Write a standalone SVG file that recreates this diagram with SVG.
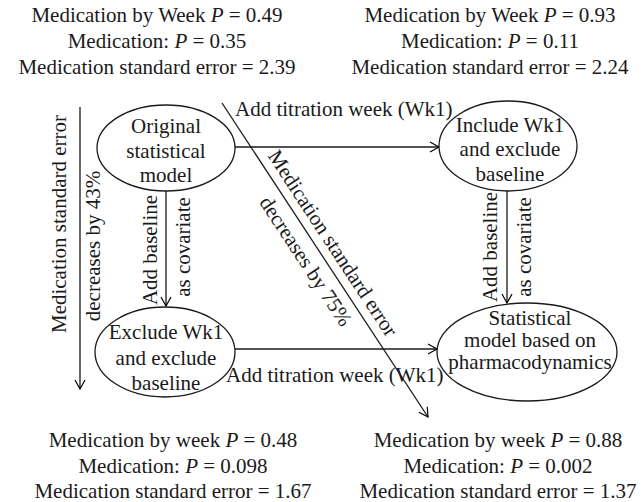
<svg xmlns="http://www.w3.org/2000/svg" width="643" height="502" viewBox="0 0 643 502" font-family="Liberation Serif, Tinos, DejaVu Serif, serif">
<defs>
<marker id="ah" viewBox="0 0 12 12" refX="10" refY="6" markerWidth="12" markerHeight="12" markerUnits="userSpaceOnUse" orient="auto">
<path d="M1,1 L10,6 L1,11" fill="none" stroke="#000" stroke-width="1.2"/>
</marker>
</defs>
<style>
text{font-family:'Liberation Serif',Tinos,'DejaVu Serif',serif;font-size:21px;fill:#1a1a1a}
.m{text-anchor:middle}
.i{font-style:italic}
ellipse{fill:#fff;stroke:#1a1a1a;stroke-width:1.3}
.c line{stroke:#1a1a1a;stroke-width:1.3}
.a{marker-end:url(#ah)}
</style>
<rect width="643" height="502" fill="#fff"/>
<g id="connectors" class="c">
<line class="a" x1="235" y1="147" x2="439" y2="147"/>
<line class="a" x1="235" y1="349" x2="437" y2="349"/>
<line class="a" x1="166" y1="191" x2="166" y2="306"/>
<line class="a" x1="507" y1="191" x2="507" y2="303"/>
<line class="a" x1="80" y1="107" x2="80" y2="389"/>
<line class="a" x1="222" y1="103" x2="428" y2="417"/>
<text x="235" y="116">Add titration week (Wk1)</text>
<text x="226" y="382">Add titration week (Wk1)</text>
<text class="m" transform="translate(157,250) rotate(-90)">Add baseline</text>
<text class="m" transform="translate(190,247) rotate(-90)">as covariate</text>
<text class="m" transform="translate(497,247) rotate(-90)">Add baseline</text>
<text class="m" transform="translate(531,247) rotate(-90)">as covariate</text>
<text class="m" transform="translate(66,224) rotate(-90)">Medication standard error</text>
<text class="m" transform="translate(100,246) rotate(-90)">decreases by 43%</text>
<text class="m" transform="translate(327,247) rotate(56.7)">Medication standard error</text>
<text class="m" transform="translate(300,265) rotate(56.7)">decreases by 75%</text>
</g>
<g id="original">
<ellipse cx="166" cy="148" rx="69" ry="43"/>
<text class="m" x="166" y="133">Original</text>
<text class="m" x="166" y="158">statistical</text>
<text class="m" x="166" y="182">model</text>
</g>
<g id="include">
<ellipse cx="508" cy="146" rx="69" ry="45"/>
<text class="m" x="510" y="132">Include Wk1</text>
<text class="m" x="510" y="156">and exclude</text>
<text class="m" x="510" y="181">baseline</text>
</g>
<g id="exclude">
<ellipse cx="165" cy="352" rx="70" ry="45"/>
<text class="m" x="166" y="339">Exclude Wk1</text>
<text class="m" x="166" y="365">and exclude</text>
<text class="m" x="166" y="390">baseline</text>
</g>
<g id="pharma">
<ellipse cx="527" cy="352" rx="90" ry="49"/>
<text class="m" x="530" y="325">Statistical</text>
<text class="m" x="530" y="347">model based on</text>
<text class="m" x="530" y="369">pharmacodynamics</text>
</g>
<g id="stats-top-left">
<text class="m" x="157" y="22">Medication by Week <tspan class="i">P</tspan> = 0.49</text>
<text class="m" x="157" y="48">Medication: <tspan class="i">P</tspan> = 0.35</text>
<text class="m" x="157" y="74">Medication standard error = 2.39</text>
</g>
<g id="stats-top-right">
<text class="m" x="490" y="22">Medication by Week <tspan class="i">P</tspan> = 0.93</text>
<text class="m" x="490" y="48">Medication: <tspan class="i">P</tspan> = 0.11</text>
<text class="m" x="490" y="74">Medication standard error = 2.24</text>
</g>
<g id="stats-bottom-left">
<text class="m" x="173" y="447">Medication by week <tspan class="i">P</tspan> = 0.48</text>
<text class="m" x="173" y="473">Medication: <tspan class="i">P</tspan> = 0.098</text>
<text class="m" x="173" y="498">Medication standard error = 1.67</text>
</g>
<g id="stats-bottom-right">
<text class="m" x="498" y="447">Medication by week <tspan class="i">P</tspan> = 0.88</text>
<text class="m" x="498" y="473">Medication: <tspan class="i">P</tspan> = 0.002</text>
<text class="m" x="498" y="498">Medication standard error = 1.37</text>
</g>
</svg>
